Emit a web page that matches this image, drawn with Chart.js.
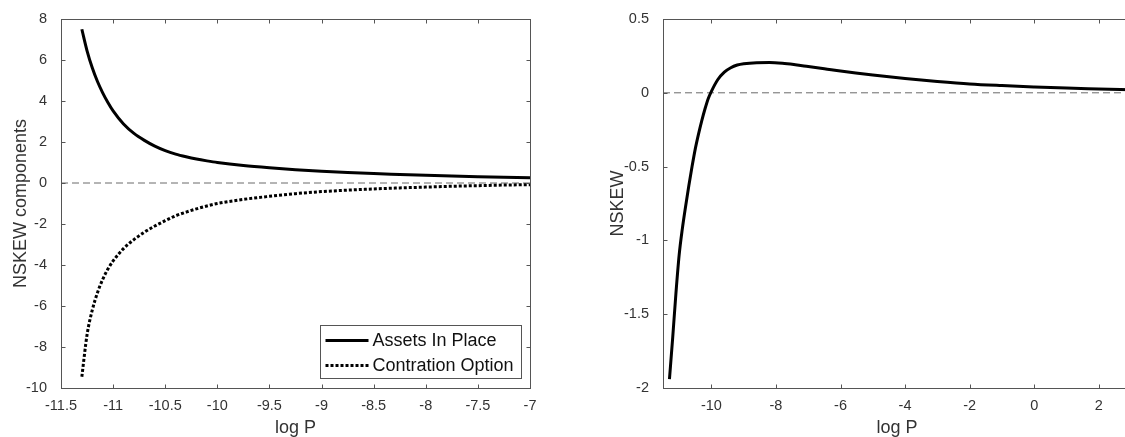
<!DOCTYPE html>
<html>
<head>
<meta charset="utf-8">
<script src="https://cdn.jsdelivr.net/npm/chart.js@4.4.0/dist/chart.umd.min.js"></script>
<style>
  html, body { margin: 0; padding: 0; background: #fff; overflow: hidden; }
  #wrap { position: relative; width: 1125px; height: 437px; overflow: hidden; }
  canvas { position: absolute; top: 0; }
  #left { left: 0; }
  #right { left: 560px; }
</style>
</head>
<body>
<div id="wrap">
  <canvas id="left" width="560" height="437"></canvas>
  <canvas id="right" width="600" height="437"></canvas>
</div>
<script>
// --- left panel: NSKEW components ---
const leftX = [-11.3, -11.25, -11.2, -11.15, -11.1, -11.05, -11, -10.9, -10.8, -10.7, -10.6, -10.5,
  -10.4, -10.3, -10.2, -10.1, -10, -9.75, -9.5, -9.25, -9, -8.75, -8.5, -8.25, -8, -7.75, -7.5, -7.25, -7];
const assetsInPlace = [7.5, 6.45, 5.62, 4.95, 4.4, 3.93, 3.52, 2.88, 2.42, 2.08, 1.8, 1.58,
  1.41, 1.28, 1.17, 1.08, 1.0, 0.85, 0.74, 0.65, 0.57, 0.51, 0.46, 0.42, 0.38, 0.34, 0.31, 0.28, 0.25];
const contractionOption = [-9.45, -7.4, -6.2, -5.35, -4.7, -4.2, -3.8, -3.2, -2.76, -2.4, -2.1, -1.84,
  -1.6, -1.42, -1.26, -1.12, -1.0, -0.8, -0.65, -0.52, -0.42, -0.35, -0.29, -0.24, -0.2, -0.16, -0.13, -0.1, -0.08];
const leftXTicks = [-11.5, -11, -10.5, -10, -9.5, -9, -8.5, -8, -7.5, -7];
const leftYTicks = [-10, -8, -6, -4, -2, 0, 2, 4, 6, 8];

// --- right panel: NSKEW ---
const rightX = [-11.3, -11.2, -11.1, -11, -10.9, -10.8, -10.7, -10.6, -10.5, -10.4, -10.3, -10.2, -10.1, -10,
  -9.8, -9.6, -9.4, -9.2, -9, -8.6, -8.2, -7.8, -7.4, -7, -6.5, -6, -5, -4, -3, -2, -1, 0, 1, 2, 3];
const nskew = [-1.94, -1.66, -1.36, -1.1, -0.92, -0.77, -0.63, -0.5, -0.38, -0.28, -0.19, -0.11, -0.04, 0.01,
  0.09, 0.14, 0.17, 0.188, 0.197, 0.204, 0.205, 0.2, 0.19, 0.178, 0.163, 0.147, 0.12, 0.097, 0.077, 0.06, 0.049, 0.04, 0.032, 0.026, 0.02];
const rightXTicks = [-10, -8, -6, -4, -2, 0, 2];
const rightYTicks = [-2, -1.5, -1, -0.5, 0, 0.5];

const AXIS_COLOR = '#555555';
const TEXT_COLOR = '#333333';
const TICK_LEN = 4;
const FONT = '"Liberation Sans", Arial, sans-serif';

Chart.defaults.font.family = FONT;
Chart.defaults.color = TEXT_COLOR;

function toPoints(xs, ys) {
  return xs.map((x, i) => ({ x: x, y: ys[i] }));
}

// matlab style numbers: -11, -10.5, 0, 0.5
function tickLabel(v) {
  return String(Math.round(v * 10) / 10);
}

// box round the plot with ticks pointing inwards, like matlab
const matlabBox = {
  id: 'matlabBox',
  afterDatasetsDraw(chart) {
    const { ctx, chartArea: a, scales } = chart;
    const l = Math.round(a.left) + 0.5, r = Math.round(a.right) + 0.5;
    const t = Math.round(a.top) + 0.5, b = Math.round(a.bottom) + 0.5;
    ctx.save();
    ctx.strokeStyle = AXIS_COLOR;
    ctx.lineWidth = 1;
    ctx.strokeRect(l, t, r - l, b - t);
    ctx.beginPath();
    scales.x.ticks.forEach(tk => {
      const px = Math.round(scales.x.getPixelForValue(tk.value)) + 0.5;
      ctx.moveTo(px, b); ctx.lineTo(px, b - TICK_LEN);
      ctx.moveTo(px, t); ctx.lineTo(px, t + TICK_LEN);
    });
    scales.y.ticks.forEach(tk => {
      const py = Math.round(scales.y.getPixelForValue(tk.value)) + 0.5;
      ctx.moveTo(l, py); ctx.lineTo(l + TICK_LEN, py);
      ctx.moveTo(r, py); ctx.lineTo(r - TICK_LEN, py);
    });
    ctx.stroke();
    ctx.restore();
  }
};

// legend drawn inside the plot, bottom right corner
const insideLegend = {
  id: 'insideLegend',
  afterDraw(chart) {
    const items = chart.data.datasets.filter(d => d.label);
    if (!items.length) return;
    const { ctx, chartArea: a } = chart;
    ctx.save();
    ctx.font = '18px ' + FONT;
    const textW = Math.max(...items.map(d => ctx.measureText(d.label).width));
    const sample = 43, rowH = 25;
    const w = Math.round(5 + sample + 4 + textW + 8);
    const h = items.length * rowH + 3;
    const x0 = Math.round(a.right - 9 - w) + 0.5;
    const y0 = Math.round(a.bottom - 10 - h) + 0.5;
    ctx.fillStyle = '#fff';
    ctx.fillRect(x0, y0, w, h);
    ctx.strokeStyle = AXIS_COLOR;
    ctx.lineWidth = 1;
    ctx.strokeRect(x0, y0, w, h);
    items.forEach((d, i) => {
      const cy = y0 + 15 + i * rowH;
      ctx.beginPath();
      ctx.setLineDash(d.borderDash || []);
      ctx.lineCap = 'butt';
      ctx.strokeStyle = d.borderColor;
      ctx.lineWidth = d.borderWidth;
      ctx.moveTo(x0 + 5, cy);
      ctx.lineTo(x0 + 5 + sample, cy);
      ctx.stroke();
      ctx.setLineDash([]);
      ctx.fillStyle = '#111';
      ctx.textBaseline = 'middle';
      ctx.textAlign = 'left';
      ctx.fillText(d.label, x0 + 5 + sample + 4, cy + 1);
    });
    ctx.restore();
  }
};

function zeroLine(min, max) {
  return {
    data: [{ x: min, y: 0 }, { x: max, y: 0 }],
    borderColor: '#6a6a6a',
    borderWidth: 1,
    borderDash: [7, 4],
    pointRadius: 0,
    order: 10
  };
}

function makeOptions(o) {
  return {
    responsive: false,
    animation: false,
    devicePixelRatio: 1,
    layout: { padding: { top: 19, right: o.padRight, left: 0, bottom: 0 } },
    plugins: { legend: { display: false }, tooltip: { enabled: false } },
    elements: { line: { cubicInterpolationMode: 'monotone' } },
    scales: {
      x: {
        type: 'linear',
        min: o.xMin, max: o.xMax,
        grid: { display: false },
        border: { display: false },
        afterFit: s => { s.height = 49; },
        afterBuildTicks: s => { s.ticks = o.xTicks.map(v => ({ value: v })); },
        ticks: { padding: 1, font: { size: 14.5 }, color: TEXT_COLOR, maxRotation: 0, autoSkip: false, callback: tickLabel },
        title: { display: true, text: 'log P', font: { size: 18, lineHeight: 1 }, padding: 0, color: TEXT_COLOR }
      },
      y: {
        type: 'linear',
        min: o.yMin, max: o.yMax,
        grid: { display: false },
        border: { display: false },
        afterFit: s => { s.width = o.yWidth; },
        afterBuildTicks: s => { s.ticks = o.yTicks.map(v => ({ value: v })); },
        ticks: { padding: 6, font: { size: 14.5 }, color: TEXT_COLOR, autoSkip: false, callback: tickLabel },
        title: { display: true, text: o.yTitle, font: { size: 18, lineHeight: 1 }, padding: { top: o.yTitlePad, bottom: 0 }, color: TEXT_COLOR }
      }
    }
  };
}

new Chart(document.getElementById('left'), {
  type: 'line',
  data: {
    datasets: [
      {
        label: 'Assets In Place',
        data: toPoints(leftX, assetsInPlace),
        borderColor: '#000',
        borderWidth: 3,
        pointRadius: 0,
        order: 1
      },
      {
        label: 'Contration Option',
        data: toPoints(leftX, contractionOption),
        borderColor: '#000',
        borderWidth: 3,
        borderDash: [3, 2],
        pointRadius: 0,
        order: 2
      },
      zeroLine(-11.5, -7)
    ]
  },
  options: makeOptions({
    xMin: -11.5, xMax: -7, yMin: -10, yMax: 8,
    xTicks: leftXTicks, yTicks: leftYTicks,
    yWidth: 61, padRight: 30,
    yTitle: 'NSKEW components', yTitlePad: 12
  }),
  plugins: [matlabBox, insideLegend]
});

new Chart(document.getElementById('right'), {
  type: 'line',
  data: {
    datasets: [
      {
        data: toPoints(rightX, nskew),
        borderColor: '#000',
        borderWidth: 3,
        pointRadius: 0,
        order: 1
      },
      zeroLine(-11.5, 3)
    ]
  },
  options: makeOptions({
    xMin: -11.5, xMax: 3, yMin: -2, yMax: 0.5,
    xTicks: rightXTicks, yTicks: rightYTicks,
    yWidth: 103, padRight: 29,
    yTitle: 'NSKEW', yTitlePad: 49
  }),
  plugins: [matlabBox]
});
</script>
</body>
</html>
